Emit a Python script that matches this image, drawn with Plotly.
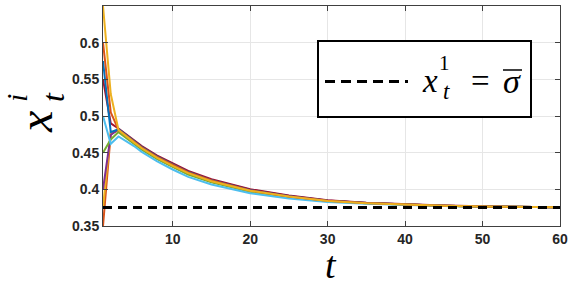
import plotly.graph_objects as go

# ---- data ----
t_vals = [1, 2, 3, 4, 5, 6, 8, 10, 12, 15, 20, 25, 30, 35, 40, 45, 50, 55, 60]

x_orange_b = [0.350, 0.476, 0.4805, 0.4725, 0.4645, 0.4565, 0.4435, 0.4325, 0.4225, 0.4115, 0.3983, 0.3902, 0.3843, 0.3811, 0.3790, 0.3775, 0.3766, 0.3760, 0.3756]
x_yellow_b = [0.375, 0.478, 0.480, 0.471, 0.463, 0.455, 0.442, 0.431, 0.421, 0.4103, 0.3975, 0.3897, 0.3841, 0.3810, 0.3789, 0.3774, 0.3765, 0.3760, 0.3756]
x_purple = [0.400, 0.474, 0.482, 0.474, 0.466, 0.458, 0.445, 0.434, 0.424, 0.4128, 0.3995, 0.3910, 0.3847, 0.3813, 0.3792, 0.3776, 0.3766, 0.3760, 0.3756]
x_green = [0.450, 0.468, 0.478, 0.470, 0.462, 0.454, 0.441, 0.430, 0.420, 0.4095, 0.3967, 0.3893, 0.3837, 0.3808, 0.3788, 0.3773, 0.3765, 0.3760, 0.3756]
x_lightblue = [0.500, 0.462, 0.472, 0.466, 0.459, 0.451, 0.438, 0.427, 0.417, 0.4065, 0.3945, 0.3875, 0.3827, 0.3803, 0.3785, 0.3772, 0.3764, 0.3759, 0.3756]
x_darkred = [0.550, 0.490, 0.483, 0.475, 0.467, 0.459, 0.446, 0.435, 0.425, 0.4137, 0.4001, 0.3915, 0.3850, 0.3815, 0.3795, 0.3778, 0.3767, 0.3760, 0.3756]
x_blue = [0.575, 0.478, 0.482, 0.4735, 0.4655, 0.4575, 0.4445, 0.4335, 0.4235, 0.4122, 0.3988, 0.3905, 0.3845, 0.3812, 0.3791, 0.3776, 0.3766, 0.3760, 0.3756]
x_orange_a = [0.600, 0.505, 0.481, 0.473, 0.465, 0.457, 0.444, 0.433, 0.423, 0.412, 0.3985, 0.3903, 0.3844, 0.3812, 0.3791, 0.3776, 0.3766, 0.3760, 0.3756]
x_yellow_a = [0.650, 0.530, 0.481, 0.472, 0.464, 0.456, 0.443, 0.432, 0.422, 0.411, 0.398, 0.390, 0.384, 0.381, 0.379, 0.3775, 0.3766, 0.3760, 0.3756]

sigma_bar = 0.375
t_range = [1, 60]
y_range = [0.3499, 0.6501]
x_ticks = [10, 20, 30, 40, 50, 60]
y_ticks = [0.35, 0.4, 0.45, 0.5, 0.55, 0.6, 0.65]
y_ticklabels = ["0.35", "0.4", "0.45", "0.5", "0.55", "0.6", "0.65"]

series = [
    (x_orange_b, "#D95319"),
    (x_yellow_b, "#EDB120"),
    (x_purple, "#7E2F8E"),
    (x_green, "#77AC30"),
    (x_lightblue, "#4DBEEE"),
    (x_darkred, "#A2142F"),
    (x_blue, "#0072BD"),
    (x_orange_a, "#D95319"),
    (x_yellow_a, "#EDB120"),
]

# ---- layout geometry ----
W, H = 570, 284
L, R, T, B = 103, 560, 6, 226


def px(X):
    return (X - L) / (R - L)


def py(Y):
    return (B - Y) / (B - T)


fig = go.Figure()
for ys, col in series:
    fig.add_trace(go.Scatter(x=t_vals, y=ys, mode="lines",
                             line=dict(color=col, width=2), showlegend=False,
                             hoverinfo="skip"))

fig.add_trace(go.Scatter(x=t_range, y=[sigma_bar, sigma_bar], mode="lines",
                         line=dict(color="black", width=3, dash="9px,6px"),
                         showlegend=False, hoverinfo="skip"))

axis_common = dict(
    showline=True, linecolor="#404040", linewidth=1, mirror="ticks",
    ticks="inside", ticklen=5, tickcolor="#404040", tickwidth=1,
    showgrid=True, gridcolor="#e6e6e6", gridwidth=1, zeroline=False,
    automargin=False,
    tickfont=dict(family="Liberation Sans, Arial, sans-serif", size=14, color="#262626", weight="bold"),
)

fig.update_xaxes(range=t_range, tickvals=x_ticks, **axis_common)
fig.update_yaxes(range=y_range, tickvals=y_ticks, ticktext=y_ticklabels, **axis_common)

SERIF = "Liberation Serif, DejaVu Serif, serif"


def sfont(size):
    return dict(family=SERIF, size=size, color="black")


ann = []
# x-axis title "t"
ann.append(dict(x=px(331), y=py(265), text="<i>t</i>", font=sfont(38)))
# y-axis title x_t^i (rotated)
ann.append(dict(x=px(35), y=py(122), text="<i>x</i>", textangle=-90, font=sfont(48)))
ann.append(dict(x=px(53), y=py(97), text="<i>t</i>", textangle=-90, font=sfont(32)))
ann.append(dict(x=px(16), y=py(98), text="<i>i</i>", textangle=-90, font=sfont(30)))
# legend text x_t^1 = sigma-bar
ann.append(dict(x=px(430), y=py(81), text="<i>x</i>", font=sfont(33)))
ann.append(dict(x=px(444), y=py(63), text="1", font=sfont(21)))
ann.append(dict(x=px(446), y=py(91), text="<i>t</i>", font=sfont(23)))
ann.append(dict(x=px(480), y=py(81), text="=", font=sfont(33)))
ann.append(dict(x=px(512), y=py(81), text="<i>σ</i>", font=sfont(34)))
for a in ann:
    a.update(xref="paper", yref="paper", showarrow=False, xanchor="center", yanchor="middle")

shapes = [
    dict(type="rect", xref="paper", yref="paper", x0=px(318), x1=px(531), y0=py(117), y1=py(41),
         line=dict(color="black", width=2), fillcolor="white", layer="above"),
    dict(type="line", xref="paper", yref="paper", x0=px(325), x1=px(408), y0=py(81.5), y1=py(81.5),
         line=dict(color="black", width=3, dash="10px,6px"), layer="above"),
    dict(type="line", xref="paper", yref="paper", x0=px(503), x1=px(522), y0=py(70), y1=py(70),
         line=dict(color="black", width=1.5), layer="above"),
]

fig.update_layout(
    width=W, height=H,
    margin=dict(l=L, r=W - R, t=T, b=H - B, autoexpand=False),
    plot_bgcolor="white", paper_bgcolor="white",
    annotations=ann, shapes=shapes, showlegend=False,
)

fig.write_html("out.html", config={"displayModeBar": False},
               post_script="document.body.style.margin='0';")
